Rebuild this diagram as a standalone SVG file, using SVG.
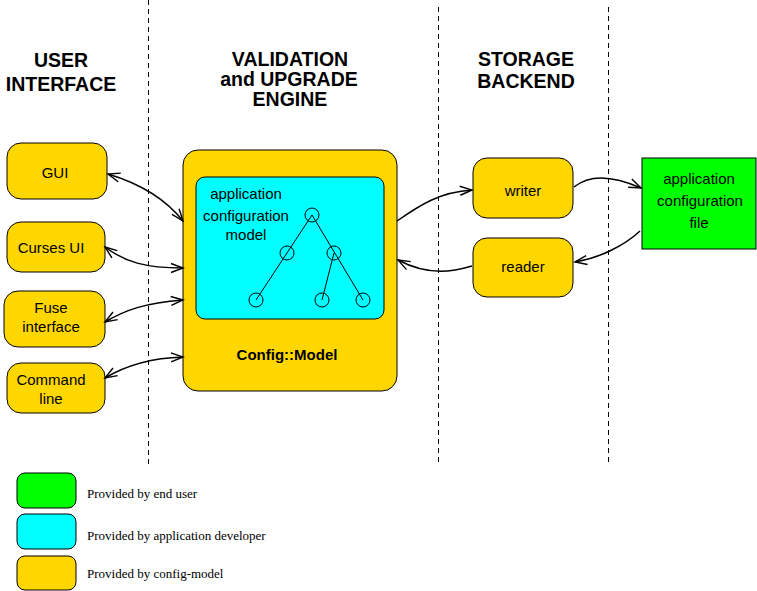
<svg xmlns="http://www.w3.org/2000/svg" width="757" height="591" viewBox="0 0 757 591">
<style>
.bg{fill:#ffffff}
.sep{stroke:#000;stroke-width:1;stroke-dasharray:5,4;fill:none;shape-rendering:crispEdges}
.hdr{font-family:"Liberation Sans",Arial,sans-serif;font-weight:bold;font-size:19.5px;fill:#000;text-anchor:middle}
.lbl{font-family:"Liberation Sans",Arial,sans-serif;font-size:15px;fill:#000;text-anchor:middle}
.bold{font-family:"Liberation Sans",Arial,sans-serif;font-weight:bold;font-size:15px;fill:#000;text-anchor:middle}
.leg{font-family:"Liberation Serif","Times New Roman",serif;font-size:13px;fill:#000}
.yel{fill:#FFD700;stroke:#000;stroke-width:1}
.cyan{fill:#00FFFF;stroke:#000;stroke-width:1}
.green{fill:#00FF00;stroke:#000;stroke-width:1}
.conn{fill:none;stroke:#000;stroke-width:1.5}
.tree{fill:none;stroke:#000;stroke-width:1}
</style>
<defs>
<marker id="ah" markerUnits="userSpaceOnUse" markerWidth="16" markerHeight="12" viewBox="-14 -6 16 12" refX="0" refY="0" orient="auto-start-reverse">
<path d="M-12,-4.5 L0,0 L-12,4.5" fill="none" stroke="#000" stroke-width="1.4"/>
</marker>
</defs>
<rect class="bg" x="0" y="0" width="757" height="591"/>
<g id="separators">
<line class="sep" x1="148.5" y1="0" x2="148.5" y2="467"/>
<line class="sep" x1="438.5" y1="7" x2="438.5" y2="465"/>
<line class="sep" x1="608.5" y1="7" x2="608.5" y2="465"/>
</g>
<g id="headers">
<text class="hdr" x="61" y="67">USER</text>
<text class="hdr" x="61" y="91">INTERFACE</text>
<text class="hdr" x="290" y="66">VALIDATION</text>
<text class="hdr" x="289" y="86">and UPGRADE</text>
<text class="hdr" x="290" y="106">ENGINE</text>
<text class="hdr" x="526" y="66">STORAGE</text>
<text class="hdr" x="526" y="88">BACKEND</text>
</g>
<g id="gui">
<rect class="yel" x="7" y="143" width="100" height="56" rx="14"/>
<text class="lbl" x="55" y="178">GUI</text>
</g>
<g id="curses">
<rect class="yel" x="7" y="222" width="98" height="50" rx="14"/>
<text class="lbl" x="51" y="253">Curses UI</text>
</g>
<g id="fuse">
<rect class="yel" x="4" y="291" width="101" height="56" rx="14"/>
<text class="lbl" x="51" y="313">Fuse</text>
<text class="lbl" x="51" y="332">interface</text>
</g>
<g id="command">
<rect class="yel" x="7" y="363" width="98" height="50" rx="14"/>
<text class="lbl" x="51" y="385">Command</text>
<text class="lbl" x="51" y="404">line</text>
</g>
<g id="configmodel">
<rect class="yel" x="183" y="150" width="214" height="241" rx="15"/>
<rect class="cyan" x="196" y="177" width="188" height="142" rx="9"/>
<text class="lbl" x="246" y="199">application</text>
<text class="lbl" x="246" y="221">configuration</text>
<text class="lbl" x="246" y="240">model</text>
<line class="tree" x1="312" y1="215" x2="256" y2="300"/>
<line class="tree" x1="312" y1="215" x2="363" y2="300"/>
<line class="tree" x1="334" y1="253" x2="322" y2="300"/>
<circle class="tree" cx="312" cy="215" r="7"/>
<circle class="tree" cx="287" cy="253" r="7"/>
<circle class="tree" cx="334" cy="253" r="7"/>
<circle class="tree" cx="256" cy="300" r="7"/>
<circle class="tree" cx="322" cy="300" r="7"/>
<circle class="tree" cx="363" cy="300" r="7"/>
<text class="bold" x="287" y="360">Config::Model</text>
</g>
<g id="writer">
<rect class="yel" x="473" y="158" width="100" height="60" rx="14"/>
<text class="lbl" x="523" y="196">writer</text>
</g>
<g id="reader">
<rect class="yel" x="473" y="238" width="100" height="59" rx="14"/>
<text class="lbl" x="523" y="272">reader</text>
</g>
<g id="configfile">
<rect class="green" x="642" y="158" width="114" height="91"/>
<text class="lbl" x="699" y="184">application</text>
<text class="lbl" x="700" y="206">configuration</text>
<text class="lbl" x="699" y="228">file</text>
</g>
<g id="connectors">
<path class="conn" d="M108,174 C128,180 160,192 183,221" marker-start="url(#ah)" marker-end="url(#ah)"/>
<path class="conn" d="M105,247 C125,262 145,268 183,268" marker-start="url(#ah)" marker-end="url(#ah)"/>
<path class="conn" d="M105,322 C125,310 145,303 183,300" marker-start="url(#ah)" marker-end="url(#ah)"/>
<path class="conn" d="M105,378 C125,366 150,358 183,357" marker-start="url(#ah)" marker-end="url(#ah)"/>
<path class="conn" d="M397,221 C420,205 440,192 472,190" marker-end="url(#ah)"/>
<path class="conn" d="M574,187 C585,178 605,172 641,188" marker-end="url(#ah)"/>
<path class="conn" d="M640,231 C625,245 600,258 575,262" marker-end="url(#ah)"/>
<path class="conn" d="M472,266 C455,271 430,277 398,260" marker-end="url(#ah)"/>
</g>
<g id="legend">
<rect class="green" x="17" y="473" width="59" height="35" rx="8"/>
<text class="leg" x="87" y="498">Provided by end user</text>
<rect class="cyan" x="17" y="514" width="59" height="35" rx="8"/>
<text class="leg" x="87" y="540">Provided by application developer</text>
<rect class="yel" x="17" y="556" width="59" height="34" rx="8"/>
<text class="leg" x="87" y="578">Provided by config-model</text>
</g>
</svg>
